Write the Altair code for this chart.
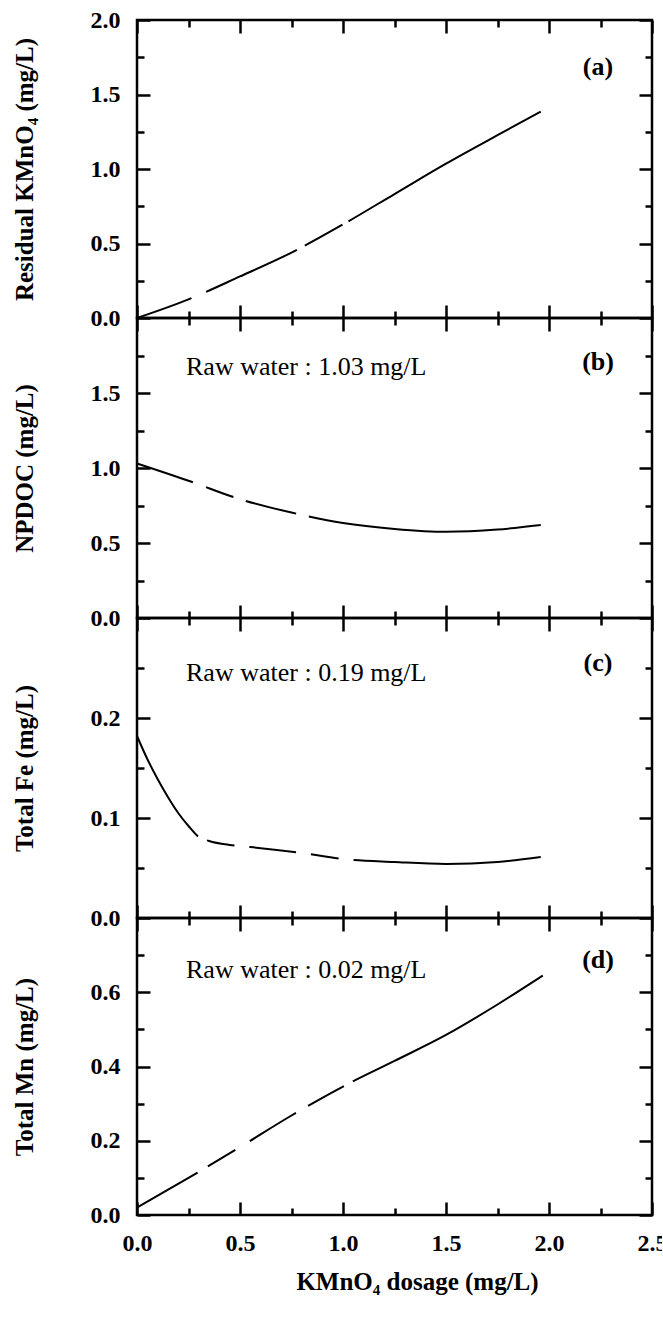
import altair as alt
import pandas as pd

# ---------------- values ----------------
dose_a = [0.0, 0.25, 0.5, 0.75, 1.0, 1.25, 1.5, 1.75, 1.96]
resid_a = [0.0, 0.125, 0.279, 0.439, 0.628, 0.832, 1.036, 1.227, 1.385]

dose_b = [0.0, 0.25, 0.5, 0.75, 1.0, 1.25, 1.5, 1.75, 1.96]
npdoc_b = [1.03, 0.915, 0.792, 0.703, 0.633, 0.594, 0.575, 0.59, 0.62]

dose_c = [0.0, 0.05, 0.1, 0.15, 0.2, 0.25, 0.3, 0.35, 0.45, 0.55, 0.8, 1.0, 1.25, 1.5, 1.75, 1.96]
fe_c = [0.182, 0.159, 0.139, 0.121, 0.105, 0.092, 0.081, 0.077, 0.073, 0.071, 0.065, 0.059, 0.056, 0.054, 0.056, 0.061]

dose_d = [0.0, 0.25, 0.5, 0.75, 1.0, 1.25, 1.5, 1.75, 1.97]
mn_d = [0.02, 0.1, 0.183, 0.268, 0.346, 0.415, 0.485, 0.567, 0.645]

x_major = [0.0, 0.5, 1.0, 1.5, 2.0, 2.5]
x_minor = [0.25, 0.75, 1.25, 1.75, 2.25]

ya_major = [0.0, 0.5, 1.0, 1.5, 2.0]
ya_minor = [0.25, 0.75, 1.25, 1.75]
yb_major = [0.0, 0.5, 1.0, 1.5]
yb_minor = [0.25, 0.75, 1.25, 1.75]
yc_major = [0.0, 0.1, 0.2]
yc_minor = [0.05, 0.15, 0.25]
yd_major = [0.0, 0.2, 0.4, 0.6]
yd_minor = [0.1, 0.3, 0.5, 0.7]

# ---------------- styling ----------------
FONT = "Liberation Serif"
W = 515
MAJ = 13
MIN = 7
xscale = alt.Scale(domain=[0, 2.5], nice=False, zero=False)

COMMON = dict(domain=False, grid=False, ticks=True, tickColor="black",
              tickOpacity=1, tickWidth=2.5, zindex=2, minExtent=0)


def ax(orient, values, size, span, **kw):
    opts = dict(COMMON)
    opts.update(kw)
    opts.setdefault("labels", False)
    opts.setdefault("title", None)
    return alt.Axis(orient=orient, values=values, tickSize=span, offset=-size,
                    **opts)


def panel(xs, ys, ydom, ymaj, ymin, ytitle, h, dash, top, last, notes):
    df = pd.DataFrame({"x": xs, "y": ys})
    yscale = alt.Scale(domain=ydom, nice=False, zero=False)
    base = alt.Chart(df)

    if last:
        xb_major = ax("bottom", x_major, MAJ, MAJ, labels=True, format=".1f",
                      labelPadding=16, labelFlush=False, labelOverlap=False,
                      title="KMnO\u2084 dosage (mg/L)", titlePadding=14,
                      titleX=280)
        xb_minor = ax("bottom", x_minor, MIN, MIN)
    else:
        xb_major = ax("bottom", x_major, MAJ, 2 * MAJ)
        xb_minor = ax("bottom", x_minor, MIN, 2 * MIN)

    yl_major = ax("left", ymaj, MAJ, MAJ, labels=True, format=".1f",
                  labelPadding=17, labelOverlap=False, title=ytitle,
                  titlePadding=53)
    yl_minor = ax("left", ymin, MIN, MIN)
    yr_major = ax("right", ymaj, MAJ, MAJ)
    yr_minor = ax("right", ymin, MIN, MIN)

    curve = base.mark_line(color="black", strokeWidth=2, strokeDash=dash,
                           interpolate="monotone").encode(
        x=alt.X("x:Q", scale=xscale, axis=xb_major),
        y=alt.Y("y:Q", scale=yscale, axis=yl_major),
    )
    ghost2 = base.mark_line(opacity=0).encode(
        x=alt.X("x:Q", scale=xscale, axis=xb_minor),
        y=alt.Y("y:Q", scale=yscale, axis=yl_minor),
    )
    if top:
        xt3 = alt.X("x:Q", scale=xscale, axis=ax("top", x_major, MAJ, MAJ))
        xt4 = alt.X("x:Q", scale=xscale, axis=ax("top", x_minor, MIN, MIN))
    else:
        xt3 = alt.X("x:Q", scale=xscale, axis=None)
        xt4 = alt.X("x:Q", scale=xscale, axis=None)
    ghost3 = base.mark_line(opacity=0).encode(
        x=xt3, y=alt.Y("y:Q", scale=yscale, axis=yr_major))
    ghost4 = base.mark_line(opacity=0).encode(
        x=xt4, y=alt.Y("y:Q", scale=yscale, axis=yr_minor))

    layers = [curve, ghost2, ghost3, ghost4]
    for txt, tx, ty, bold, align in notes:
        layers.append(
            alt.Chart().mark_text(
                text=txt, font=FONT, fontSize=26,
                fontWeight="bold" if bold else "normal",
                align=align, baseline="middle", color="black",
            ).encode(
                x=alt.XDatum(tx, scale=xscale, axis=None),
                y=alt.YDatum(ty, scale=yscale, axis=None),
            )
        )
    return (
        alt.layer(*layers)
        .resolve_axis(x="independent", y="independent")
        .properties(width=W, height=h)
    )


pa = panel(dose_a, resid_a, [0, 2.0], ya_major, ya_minor,
           "Residual KMnO\u2084 (mg/L)", 298, [58, 16, 100, 9, 43, 7, 3000, 1],
           True, False,
           [("(a)", 2.238, 1.685, True, "center")])
pb = panel(dose_b, npdoc_b, [0, 2.0], yb_major, yb_minor,
           "NPDOC (mg/L)", 300, [59, 14, 29, 13, 52, 13, 3000, 1],
           False, False,
           [("Raw water : 1.03 mg/L", 0.238, 1.673, False, "left"),
            ("(b)", 2.238, 1.707, True, "center")])
pc = panel(dose_c, fe_c, [0, 0.3], yc_major, yc_minor,
           "Total Fe (mg/L)", 300, [118, 10, 28, 15, 47, 15, 28, 15, 3000, 1],
           False, False,
           [("Raw water : 0.19 mg/L", 0.238, 0.245, False, "left"),
            ("(c)", 2.238, 0.255, True, "center")])
pd_ = panel(dose_d, mn_d, [0, 0.8], yd_major, yd_minor,
            "Total Mn (mg/L)", 297, [70, 12, 32, 17, 54, 14, 41, 10, 3000, 1],
            False, True,
            [("Raw water : 0.02 mg/L", 0.238, 0.66, False, "left"),
             ("(d)", 2.238, 0.687, True, "center")])

chart = (
    alt.vconcat(pa, pb, pc, pd_, spacing=0, bounds="flush")
    .properties(autosize=alt.AutoSizeParams(type="none"),
                padding={"left": 137, "top": 20, "right": 10, "bottom": 1290},
                background="white")
    .configure_view(stroke="black", strokeWidth=2.5)
    .configure_axis(
        labelFont=FONT, labelFontSize=24, labelFontWeight="bold",
        labelColor="black", titleFont=FONT, titleFontSize=25,
        titleFontWeight="bold", titleColor="black", tickColor="black",
        tickWidth=2.5,
    )
)

chart.save("out.html", embed_options={"renderer": "svg", "actions": False})
